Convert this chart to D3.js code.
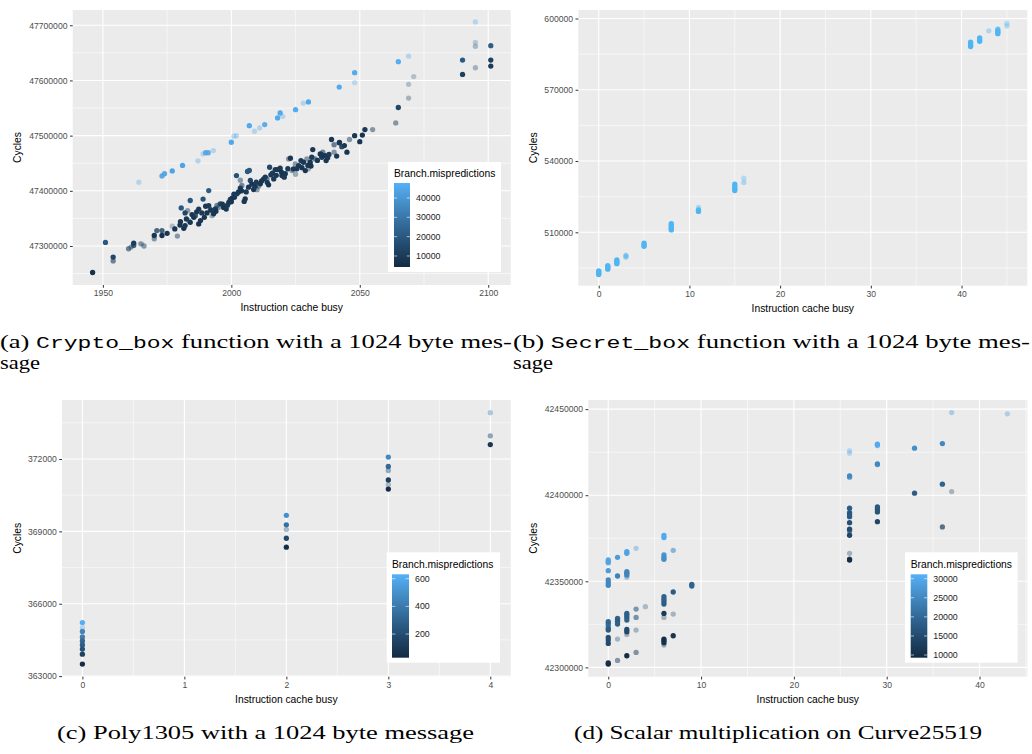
<!DOCTYPE html>
<html><head><meta charset="utf-8">
<script src="https://cdn.jsdelivr.net/npm/d3@7"></script>
<style>body{margin:0;background:#fff}svg{display:block}</style>
</head><body>
<svg id="fig" width="1032" height="754"></svg>
<script>
// ---------- DATA ----------
// (a) Crypto_box: [instruction cache busy, cycles, branch mispredictions, alpha]
const cryptoPoints = [
 [1964,47415700,44000,0.35],[1973,47427000,43000,0.9],[1974,47431000,43000,0.9],[1977,47436000,44000,1],
 [1981,47446000,44000,1],[1987,47454000,44000,0.35],[1989,47467000,43000,0.35],[1990,47469000,44000,0.9],
 [1991,47469000,44000,0.9],[1993,47473000,44000,0.35],[2000,47488000,45000,1],[2001,47499000,44000,0.35],
 [2002,47500000,44000,0.35],[2007,47518000,45000,1],[2009,47508000,44000,0.35],[2011,47514000,44000,0.35],
 [2013,47520000,44000,0.9],[2018,47532000,45000,1],[2019,47541000,45000,1],[2020,47535000,44000,0.35],
 [2025,47547000,46000,1],[2028,47559000,44000,0.35],[2030,47561000,45000,1],[2042,47588000,46000,1],
 [2048,47614000,46000,1],[2048,47596000,44000,0.3],[2065,47634000,47000,1],[2069,47644000,45000,0.35],
 [2095,47706000,46000,0.35],
 [2095,47669000,30000,0.3],[2095,47662000,20000,0.35],[2101,47663000,22000,1],[2090,47637000,21000,1],
 [2101,47637000,12000,1],[2095,47623000,15000,0.35],[2090,47611000,12000,1],[2101,47626000,10000,1],
 [2071,47607000,20000,0.3],[2069,47593000,18000,0.3],[2069,47568000,15000,0.35],[2065,47551000,14000,1],
 [2064,47523000,12000,0.5],[2055,47511000,12000,0.5],[2052,47511000,9000,1],[2051,47501000,8000,1],
 [2048,47500000,9000,1],[2050,47489000,8000,1],[2046,47493000,12000,0.5],[2042,47487000,10000,1],
 [2039,47493000,9000,1],[2044,47482000,9000,1],[2043,47480000,10000,0.9],[2045,47470000,8000,1],
 [2040,47470000,12000,0.5],[2041,47463000,9000,1],[2040,47484000,15000,0.3],
 [1946,47252000,7000,1],[1951,47306500,20000,1],[1954,47280000,14000,1],[1954,47273000,10000,0.6],
 [1960,47295000,10000,0.6],[1961,47298000,12000,0.5],[1962,47305000,10000,1],[1962,47301000,12000,0.8],
 [1964.6,47304000,15000,0.3],[1966,47300000,12000,0.5],[1965,47304000,12000,0.35],[1970,47319000,8000,1],
 [1970,47313000,12000,0.5],[1971,47328000,14000,0.8],[1973,47328000,12000,0.8],[1973,47319000,7000,1],
 [1975,47323000,8000,1],[1977,47336000,14000,0.3],[1978,47331000,8000,1],[1979,47318000,12000,0.5],
 [1980,47338000,8000,1],[1980.2,47344000,9000,1],[1980.5,47369000,20000,1],[1981.5,47332000,7000,1],
 [1982,47337000,9000,1],[1982,47360000,14000,1],[1983,47364000,14000,0.5],[1984,47382500,20000,1],
 [1983.4,47346000,12000,0.5],[1984.7,47357000,9000,1],[1985.4,47352000,8000,1],[1986,47355000,10000,0.8],
 [1987.3,47367000,9000,1],[1987.3,47340000,8000,1],[1988,47346000,9000,1],[1989,47385000,18000,1],
 [1990,47372000,9000,1],[1990.5,47360000,8000,1],[1991.2,47373000,10000,1],[1991.8,47367000,12000,0.6],
 [1991.2,47400500,22000,1],[1992.5,47355000,12000,0.4],[1993.1,47358500,9000,1],[1993.8,47367400,10000,1],
 [1994.4,47373400,12000,0.6],[1995.7,47376500,9000,0.9],[1997,47370000,8000,1],[1998,47367000,9000,1],
 [1999,47379000,9000,1],[1999.6,47384300,10000,1],[2000.3,47386700,9000,1],[2001.2,47388500,8000,1],
 [2002.2,47394500,12000,1],[2002,47427700,18000,1],[2003.5,47405000,9000,1],[2004.1,47409600,12000,0.6],
 [2005.4,47385500,8000,1],[2005,47380700,9000,1],[2003.5,47419200,15000,0.5],[2006.3,47435000,20000,1],
 [2007,47437000,20000,1],[2006.7,47406600,9000,1],[2007.4,47418700,14000,1],[2008.7,47402400,8000,1],
 [2009.3,47408400,9000,1],[2009.7,47415600,10000,1],[2010.6,47408400,12000,0.5],[2011.3,47412600,9000,1],
 [2012.6,47421600,10000,1],[2013.2,47424700,9000,1],[2013.9,47421600,12000,0.6],[2014.5,47410800,8000,1],
 [2014.9,47442700,14000,1],[2015.4,47428900,9000,1],[2016.5,47421600,9000,1],[2017.1,47438500,10000,1],
 [2018,47438500,9000,1],[2019,47441000,10000,1],[2019.7,47427700,9000,1],[2020.6,47424700,10000,1],
 [2022.3,47457800,12000,0.5],[2023,47459000,9000,1],[2023.6,47436700,12000,0.5],[2024.2,47439700,9000,1],
 [2024.9,47448800,12000,0.5],[2026.2,47445800,9000,1],[2027.1,47454800,10000,1],[2028.1,47451800,9000,1],
 [2028.8,47436700,8000,1],[2029.4,47457800,12000,0.5],[2030.7,47451800,9000,1],[2031.3,47460800,10000,1],
 [2031.7,47474700,9000,1],[2032.6,47457800,12000,0.6],[2034.6,47466900,9000,1],[2035.2,47460800,10000,1],
 [2035.6,47469900,12000,0.6],[2036.5,47463900,9000,1],[2036.9,47454800,8000,1],[2040,47483100,12000,0.5],
 [2042.1,47487900,9000,1],
 [1982.5,47349000,9000,1],[1984,47343000,8000,1],[1986.5,47362000,9000,1],[1988.5,47360000,10000,1],
 [1989.5,47352000,8000,1],[1992,47365000,9000,1],[1994,47363000,8000,1],[1995,47370000,10000,0.5],
 [1996.5,47376000,9000,1],[1998.5,47374000,10000,1],[2000,47380000,8000,1],[2001,47394000,10000,1],
 [2002.8,47398000,9000,1],[2004,47400000,8000,1],[2005.8,47398000,10000,1],[2008,47412000,9000,1],
 [2010,47402000,12000,0.5],[2011.8,47418000,8000,1],[2014,47415000,9000,1],[2016,47432000,10000,1],
 [2017.5,47428000,9000,1],[2019.5,47434000,8000,1],[2021,47431000,9000,1],[2022,47440000,10000,1],
 [2025.5,47440000,9000,1],[2027.5,47442000,8000,1],[2029.8,47446000,9000,1],[2031,47445000,8000,1],
 [2033.5,47455000,9000,1],[2035,47466000,8000,1],[2037.5,47460000,9000,1],[2038,47466000,10000,1],
 [2030,47440000,12000,0.4],[2025,47430000,12000,0.4]
];
const cryptoXTicks = [1950, 2000, 2050, 2100];
const cryptoYTicks = [47300000, 47400000, 47500000, 47600000, 47700000];
const cryptoLegendTicks = [10000, 20000, 30000, 40000];

// (b) Secret_box: [instruction cache busy, cycles, alpha]
const secretPoints = [
 [0,492200,1],[0,492600,1],[0,493000,1],[0,493400,1],[0,493800,1],
 [1,494500,1],[1,495000,1],[1,495500,1],[1,496000,1],
 [2,496800,1],[2,497300,1],[2,497800,1],[2,498400,1],
 [3,499600,0.6],[3,500300,0.6],
 [5,504100,1],[5,504700,1],[5,505400,1],
 [8,511000,1],[8,511600,1],[8,512200,1],[8,512900,1],[8,513600,1],
 [11,518800,1],[11,519400,0.9],[11,520500,0.4],
 [15,527600,1],[15,528200,1],[15,528800,1],[15,529500,1],[15,530300,1],
 [16,531000,0.4],[16,532800,0.35],
 [41,588200,1],[41,588700,1],[41,589300,1],[41,590000,1],
 [42,590400,1],[42,591000,1],[42,591800,1],
 [43,594800,0.4],
 [44,593600,1],[44,594200,1],[44,594800,1],[44,595500,0.8],
 [45,596900,0.4],[45,598000,0.35]
];
const secretXTicks = [0, 10, 20, 30, 40];
const secretYTicks = [510000, 540000, 570000, 600000];

// (c) Poly1305: [instruction cache busy, cycles, branch mispredictions, alpha]
const polyPoints = [
 [0,365220,620,1],[0,365010,560,0.35],[0,364850,450,1],[0,364620,350,0.9],[0,364460,320,1],
 [0,364290,280,1],[0,364120,220,1],[0,363910,150,1],[0,363500,40,1],
 [2,369665,500,1],[2,369270,360,1],[2,369075,300,0.4],[2,368715,170,1],[2,368345,40,1],
 [3,372080,470,1],[3,371690,330,1],[3,371525,300,0.5],[3,371130,130,1],[3,370935,200,0.35],[3,370755,40,1],
 [4,373920,470,0.4],[4,372960,250,0.5],[4,372600,90,1]
];
const polyXTicks = [0, 1, 2, 3, 4];
const polyYTicks = [363000, 366000, 369000, 372000];
const polyLegendTicks = [200, 400, 600];

// (d) Curve25519 scalar multiplication
const curvePoints = [
 [26,42425760,29000,0.35],[26,42424420,29000,0.3],[26,42411200,25000,1],[26,42410500,25000,0.8],
 [26,42392440,18000,1],[26,42389880,17500,1],[26,42388550,17000,1],[26,42387560,17500,1],
 [26,42384070,16000,1],[26,42380230,15000,1],[26,42379240,15500,0.7],[26,42376750,14000,1],
 [26,42366280,14000,0.35],[26,42362380,9500,1],[26,42362900,10000,0.8],
 [29,42429650,30000,1],[29,42428880,30000,0.8],[29,42418200,25000,1],[29,42417800,25000,0.8],
 [29,42393200,17500,1],[29,42391840,17000,1],[29,42390290,16500,1],[29,42384650,14000,1],
 [33,42427330,26000,1],[33,42401160,18000,1],
 [36,42430000,25000,1],[36,42406400,19000,1],[36,42381570,13000,0.7],
 [37,42448000,28000,0.4],[37,42402100,15000,0.35],
 [43,42447270,27000,0.35],
 [0,42362380,30000,1],[0,42360830,30000,1],[0,42361500,29000,0.8],[0,42356180,28000,1],
 [0,42350760,25000,1],[0,42349210,25000,1],[0,42347660,25000,1],[0,42326530,20000,1],
 [0,42325170,19000,1],[0,42324010,21000,0.7],[0,42322650,19000,1],[0,42321690,18000,1],
 [0,42317420,16000,1],[0,42315870,15500,1],[0,42313950,15000,1],[0,42301920,9500,1],[0,42302600,10000,1],
 [1,42363930,28000,1],[1,42353080,24000,1],[1,42328470,19000,1],[1,42327500,18500,1],
 [1,42326530,18000,1],[1,42325170,18500,1],[1,42316450,15000,0.35],[1,42304050,13000,0.5],
 [2,42367230,29000,1],[2,42366260,29000,1],[2,42355600,25000,1],[2,42354630,24000,1],
 [2,42353660,24500,1],[2,42352300,24000,0.4],[2,42331370,19000,1],[2,42330400,18500,1],
 [2,42329050,18000,1],[2,42327500,19000,1],[2,42322070,15000,1],[2,42320720,14500,1],
 [2,42319170,14000,0.35],[2,42306760,9500,1],
 [3,42369170,28000,0.4],[3,42333890,18000,0.6],[3,42329050,17000,0.6],[3,42321690,15000,0.35],[3,42308700,12000,0.5],
 [4,42335250,18000,0.35],
 [6,42376600,30000,1],[6,42375400,30000,1],[6,42365300,27000,1],[6,42363930,26000,1],[6,42362770,26000,1],
 [6,42341070,19000,1],[6,42339510,19000,1],[6,42338160,18500,1],[6,42336800,18000,1],[6,42331370,12000,1],
 [6,42329050,14000,0.35],[6,42316450,10000,1],[6,42315480,10000,1],[6,42314300,10500,1],[6,42312960,12000,0.35],
 [7,42368000,26000,0.6],[7,42343780,18000,1],[7,42330980,15000,0.35],[7,42318390,11000,1],
 [9,42348240,19000,1],[9,42347270,19000,1]
];
const curveXTicks = [0, 10, 20, 30, 40];
const curveYTicks = [42300000, 42350000, 42400000, 42450000];
const curveLegendTicks = [10000, 15000, 20000, 25000, 30000];

const xTitle = "Instruction cache busy";
const yTitle = "Cycles";
const legendTitle = "Branch.mispredictions";

// ---------- DRAWING ----------
const svg = d3.select("#fig");
const LOW = "#132B43", HIGH = "#56B1F7";
const SANS = "'Liberation Sans', Arial, Helvetica, sans-serif";

function minorOf(ticks) {
  const out = [];
  const step = ticks[1] - ticks[0];
  out.push(ticks[0] - step / 2);
  ticks.forEach(t => out.push(t + step / 2));
  return out;
}

function panel(cfg) {
  const g = svg.append("g");
  const x = d3.scaleLinear().domain(cfg.xDomain).range([cfg.left, cfg.right]);
  const y = d3.scaleLinear().domain(cfg.yDomain).range([cfg.bottom, cfg.top]);
  const inX = v => v >= cfg.xDomain[0] && v <= cfg.xDomain[1];
  const inY = v => v >= cfg.yDomain[0] && v <= cfg.yDomain[1];

  g.append("rect").attr("x", cfg.left).attr("y", cfg.top)
    .attr("width", cfg.right - cfg.left).attr("height", cfg.bottom - cfg.top).attr("fill", "#EBEBEB");

  const grid = g.append("g").attr("stroke", "#fff").attr("fill", "none");
  minorOf(cfg.xTicks).filter(inX).forEach(v => grid.append("line")
    .attr("x1", x(v)).attr("x2", x(v)).attr("y1", cfg.top).attr("y2", cfg.bottom).attr("stroke-width", 0.55));
  minorOf(cfg.yTicks).filter(inY).forEach(v => grid.append("line")
    .attr("y1", y(v)).attr("y2", y(v)).attr("x1", cfg.left).attr("x2", cfg.right).attr("stroke-width", 0.55));
  cfg.xTicks.forEach(v => grid.append("line")
    .attr("x1", x(v)).attr("x2", x(v)).attr("y1", cfg.top).attr("y2", cfg.bottom).attr("stroke-width", 1.1));
  cfg.yTicks.forEach(v => grid.append("line")
    .attr("y1", y(v)).attr("y2", y(v)).attr("x1", cfg.left).attr("x2", cfg.right).attr("stroke-width", 1.1));

  // axes
  const xa = g.append("g").attr("transform", `translate(0,${cfg.bottom})`)
    .call(d3.axisBottom(x).tickValues(cfg.xTicks).tickSize(2.75).tickPadding(2.5).tickFormat(d3.format("d")));
  const ya = g.append("g").attr("transform", `translate(${cfg.left},0)`)
    .call(d3.axisLeft(y).tickValues(cfg.yTicks).tickSize(2.75).tickPadding(2.5).tickFormat(d3.format("d")));
  [xa, ya].forEach(a => {
    a.select(".domain").remove();
    a.selectAll(".tick line").attr("stroke", "#333").attr("stroke-width", 1);
    a.selectAll(".tick text").attr("fill", "#4D4D4D").attr("font-family", SANS).attr("font-size", 8.6);
  });

  g.append("text").attr("x", (cfg.left + cfg.right) / 2).attr("y", cfg.bottom + 26)
    .attr("text-anchor", "middle").attr("font-family", SANS).attr("font-size", 10.3).attr("fill", "#000")
    .text(xTitle);
  g.append("text").attr("transform", `translate(${cfg.yTitleX},${(cfg.top + cfg.bottom) / 2}) rotate(-90)`)
    .attr("text-anchor", "middle").attr("font-family", SANS).attr("font-size", 10.3).attr("fill", "#000")
    .text(yTitle);

  const color = cfg.colorDomain
    ? d3.scaleLinear().domain(cfg.colorDomain).range([LOW, HIGH]).interpolate(d3.interpolateLab).clamp(true)
    : null;

  g.append("g").selectAll("circle").data(cfg.points).join("circle")
    .attr("cx", d => x(d[0])).attr("cy", d => y(d[1])).attr("r", 2.65)
    .attr("fill", d => color ? color(d[2]) : cfg.fixedColor)
    .attr("fill-opacity", d => d[d.length - 1]);

  if (cfg.legend) {
    const L = cfg.legend;
    const lg = g.append("g");
    lg.append("rect").attr("x", L.x0).attr("y", L.y0).attr("width", L.x1 - L.x0).attr("height", L.y1 - L.y0).attr("fill", "#fff");
    lg.append("text").attr("x", L.bx0).attr("y", L.titleY).attr("font-family", SANS).attr("font-size", 10.3)
      .attr("fill", "#000").text(legendTitle);
    const cb = d3.scaleLinear().domain(cfg.colorDomain).range([L.by1, L.by0]);
    const gid = "grad" + L.id;
    const grad = svg.append("defs").append("linearGradient").attr("id", gid)
      .attr("x1", 0).attr("x2", 0).attr("y1", 1).attr("y2", 0);
    d3.range(0, 1.0001, 0.05).forEach(t => grad.append("stop").attr("offset", t)
      .attr("stop-color", d3.interpolateLab(LOW, HIGH)(t)));
    lg.append("rect").attr("x", L.bx0).attr("y", L.by0).attr("width", L.bx1 - L.bx0).attr("height", L.by1 - L.by0)
      .attr("fill", `url(#${gid})`);
    const tw = (L.bx1 - L.bx0) / 5;
    L.ticks.forEach(v => {
      const ty = cb(v);
      lg.append("line").attr("x1", L.bx0).attr("x2", L.bx0 + tw).attr("y1", ty).attr("y2", ty).attr("stroke", "#fff").attr("stroke-width", 0.6);
      lg.append("line").attr("x1", L.bx1 - tw).attr("x2", L.bx1).attr("y1", ty).attr("y2", ty).attr("stroke", "#fff").attr("stroke-width", 0.6);
      lg.append("text").attr("x", L.bx1 + 6).attr("y", ty).attr("dy", "0.35em").attr("font-family", SANS)
        .attr("font-size", 8.8).attr("fill", "#222").text(d3.format("d")(v));
    });
  }
}

panel({ left: 72.7, right: 510.7, top: 10, bottom: 285, yTitleX: 21,
  xDomain: [1938.25, 2108.75], yDomain: [47229350, 47727650],
  xTicks: cryptoXTicks, yTicks: cryptoYTicks, points: cryptoPoints, colorDomain: [4300, 47760],
  legend: { id: "a", x0: 388, y0: 162, x1: 501, y1: 272, bx0: 394, bx1: 410, by0: 183, by1: 267, titleY: 177, ticks: cryptoLegendTicks } });

panel({ left: 578.3, right: 1027.3, top: 10, bottom: 285.7, yTitleX: 537,
  xDomain: [-2.25, 47.25], yDomain: [487525, 603575],
  xTicks: secretXTicks, yTicks: secretYTicks, points: secretPoints, fixedColor: "#4DB6F3" });

panel({ left: 62, right: 510.7, top: 400, bottom: 676.7, yTitleX: 21,
  xDomain: [-0.2, 4.2], yDomain: [362975, 374447],
  xTicks: polyXTicks, yTicks: polyYTicks, points: polyPoints, colorDomain: [29, 632],
  legend: { id: "c", x0: 386.7, y0: 552.3, x1: 500, y1: 662.7, bx0: 392, bx1: 409, by0: 574.3, by1: 657.7, titleY: 567.5, ticks: polyLegendTicks } });

panel({ left: 588.3, right: 1027.3, top: 400, bottom: 676.7, yTitleX: 537,
  xDomain: [-2.15, 45.15], yDomain: [42294600, 42455300],
  xTicks: curveXTicks, yTicks: curveYTicks, points: curvePoints, colorDomain: [9300, 31150],
  legend: { id: "d", x0: 905, y0: 552.3, x1: 1017.7, y1: 662.7, bx0: 910.7, bx1: 927.3, by0: 574.3, by1: 657.7, titleY: 567.5, ticks: curveLegendTicks } });

// ---------- CAPTIONS ----------
const SERIF = "'Liberation Serif', 'Times New Roman', serif";
const MONO = "'Liberation Mono', 'DejaVu Sans Mono', monospace";
function caption(x, y, w, parts) {
  const t = svg.append("text").attr("x", x).attr("y", y).attr("font-family", SERIF).attr("font-size", 19)
    .attr("fill", "#000").attr("textLength", w).attr("lengthAdjust", "spacingAndGlyphs");
  parts.forEach(p => t.append("tspan").attr("font-family", p[1] ? MONO : SERIF)
    .attr("font-size", p[1] ? 16.5 : 19).text(p[0]));
}
caption(0, 348, 512, [["(a) ", 0], ["Crypto_box", 1], [" function with a 1024 byte mes-", 0]]);
caption(0, 369, 40, [["sage", 0]]);
caption(513, 348, 517, [["(b) ", 0], ["Secret_box", 1], [" function with a 1024 byte mes-", 0]]);
caption(513, 369, 40, [["sage", 0]]);
caption(57, 739, 417, [["(c) Poly1305 with a 1024 byte message", 0]]);
caption(574, 739, 408, [["(d) Scalar multiplication on Curve25519", 0]]);
</script>
</body></html>
